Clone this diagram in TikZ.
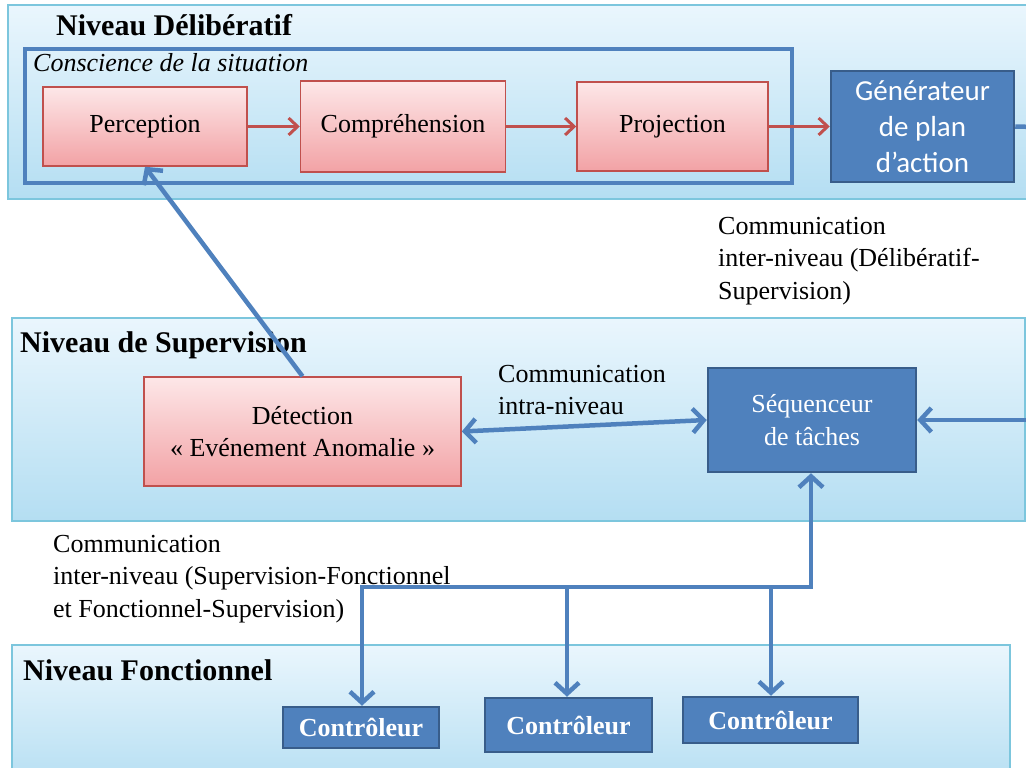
\documentclass[tikz,border=0pt]{standalone}
\usepackage{fontspec}
\setmainfont{Liberation Serif}
\newfontfamily\calibri{Carlito}
\usetikzlibrary{arrows.meta, positioning}

\definecolor{paneltop}{HTML}{EAF6FD}
\definecolor{panelbot}{HTML}{B4DEF2}
\definecolor{panelline}{HTML}{7CC6DD}
\definecolor{rosetop}{HTML}{FDE7E8}
\definecolor{rosebot}{HTML}{F2A2A5}
\definecolor{rougeline}{HTML}{C0504D}
\definecolor{bleu}{HTML}{4F81BD}
\definecolor{bleuline}{HTML}{385D8A}

\newcommand{\corps}{\fontsize{26}{32.5}\selectfont}
\newcommand{\titreniveau}{\fontsize{30}{34}\selectfont\bfseries}

\tikzset{
  pointe/.tip={Straight Barb[length=11pt,width=24pt]},
  niveau/.style={draw=panelline, line width=1.5pt, top color=paneltop, bottom color=panelbot},
  conscience/.style={draw=bleu, line width=3.5pt},
  rosebox/.style={draw=rougeline, line width=1.5pt, top color=rosetop, bottom color=rosebot,
    font=\corps, align=center, inner sep=0pt},
  bleubox/.style={draw=bleuline, line width=2.5pt, fill=bleu, text=white, align=center, inner sep=0pt},
  rouge/.style={draw=rougeline, line width=3pt, -{Straight Barb[length=9pt,width=17pt]}},
  lien/.style={draw=bleu, line width=4.5pt, -pointe},
  legende/.style={font=\corps, align=left, inner sep=0pt},
}

\begin{document}
\begin{tikzpicture}[x=1pt, y=-1pt]
  \clip (0,0) rectangle (1026,768);

  % les trois niveaux
  \draw[niveau] (8,5) rectangle (1040,199);
  \draw[niveau] (12,318) rectangle (1025,521);
  \draw[niveau] (12,645) rectangle (1010,790);
  \node[font=\titreniveau, anchor=base west, inner sep=0pt] (tdelib) at (56,36) {Niveau Délibératif};
  \node[font=\titreniveau, anchor=base west, inner sep=0pt] (tsup) at (20,352) {Niveau de Supervision};
  \node[font=\titreniveau, anchor=base west, inner sep=0pt] (tfonc) at (23,680) {Niveau Fonctionnel};

  % conscience de la situation
  \draw[conscience] (25,49) rectangle (792,183);
  \node[font=\corps\itshape, anchor=base west, inner sep=0pt] (tconsc) at (33,72) {Conscience de la situation};

  \node[rosebox, minimum width=204pt, minimum height=79pt] (perc) at (145,126.5) {Perception};
  \node[rosebox, minimum width=205pt, minimum height=91pt, right=52pt of perc] (comp) {Compréhension};
  \node[rosebox, minimum width=191pt, minimum height=89pt, right=70pt of comp] (proj) {Projection};
  \node[bleubox, font=\calibri\fontsize{29}{36}\selectfont, minimum width=183pt, minimum height=111pt,
    right=61pt of proj] (gen) {Générateur\\de plan\\d’action};

  % supervision
  \node[rosebox, minimum width=317pt, minimum height=109pt] (det) at (302.5,431.5) {Détection\\« Evénement Anomalie »};
  \node[bleubox, font=\corps, minimum width=208pt, minimum height=104pt] (seq) at (812,420) {Séquenceur\\de tâches};

  % fonctionnel
  \node[bleubox, font=\corps\bfseries, minimum width=156pt, minimum height=41pt] (ctrl1) at (361,727.5) {Contrôleur};
  \node[bleubox, font=\corps\bfseries, minimum width=167pt, minimum height=54pt] (ctrl2) at (568.5,725) {Contrôleur};
  \node[bleubox, font=\corps\bfseries, minimum width=175pt, minimum height=46pt] (ctrl3) at (770.5,720) {Contrôleur};

  % legendes
  \node[legende, anchor=west] (cdelib) at (718,261) {Communication\\inter-niveau (Délibératif-\\Supervision)};
  \node[legende, anchor=west] (cintra) at (498,390) {Communication\\intra-niveau};
  \node[legende, anchor=west] (csupfonc) at (53,579) {Communication\\inter-niveau (Supervision-Fonctionnel\\et Fonctionnel-Supervision)};

  % fleches
  \draw[rouge] (perc) -- (comp);
  \draw[rouge] (comp) -- (proj);
  \draw[rouge] (proj) -- (gen);

  \coordinate (genout) at (1035,127);
  \coordinate (seqin) at (1035,420);
  \draw[lien, -] (gen.east) -- (genout);
  \draw[lien] (seqin) -- (seq.east);
  \draw[lien] (det.north) -- (perc.south);
  \draw[lien, pointe-pointe] (det.east) -- (seq.west);

  % bus vers les controleurs
  \coordinate (b1) at (362,587);
  \coordinate (b2) at (567,587);
  \coordinate (b3) at (771,587);
  \coordinate (b4) at (811,587);
  \draw[lien, pointe-pointe] (b1 |- ctrl1.north) -- (b1) -- (b4) -- (b4 |- seq.south);
  \draw[lien] (b2) -- (b2 |- ctrl2.north);
  \draw[lien] (b3) -- (b3 |- ctrl3.north);
\end{tikzpicture}
\end{document}
